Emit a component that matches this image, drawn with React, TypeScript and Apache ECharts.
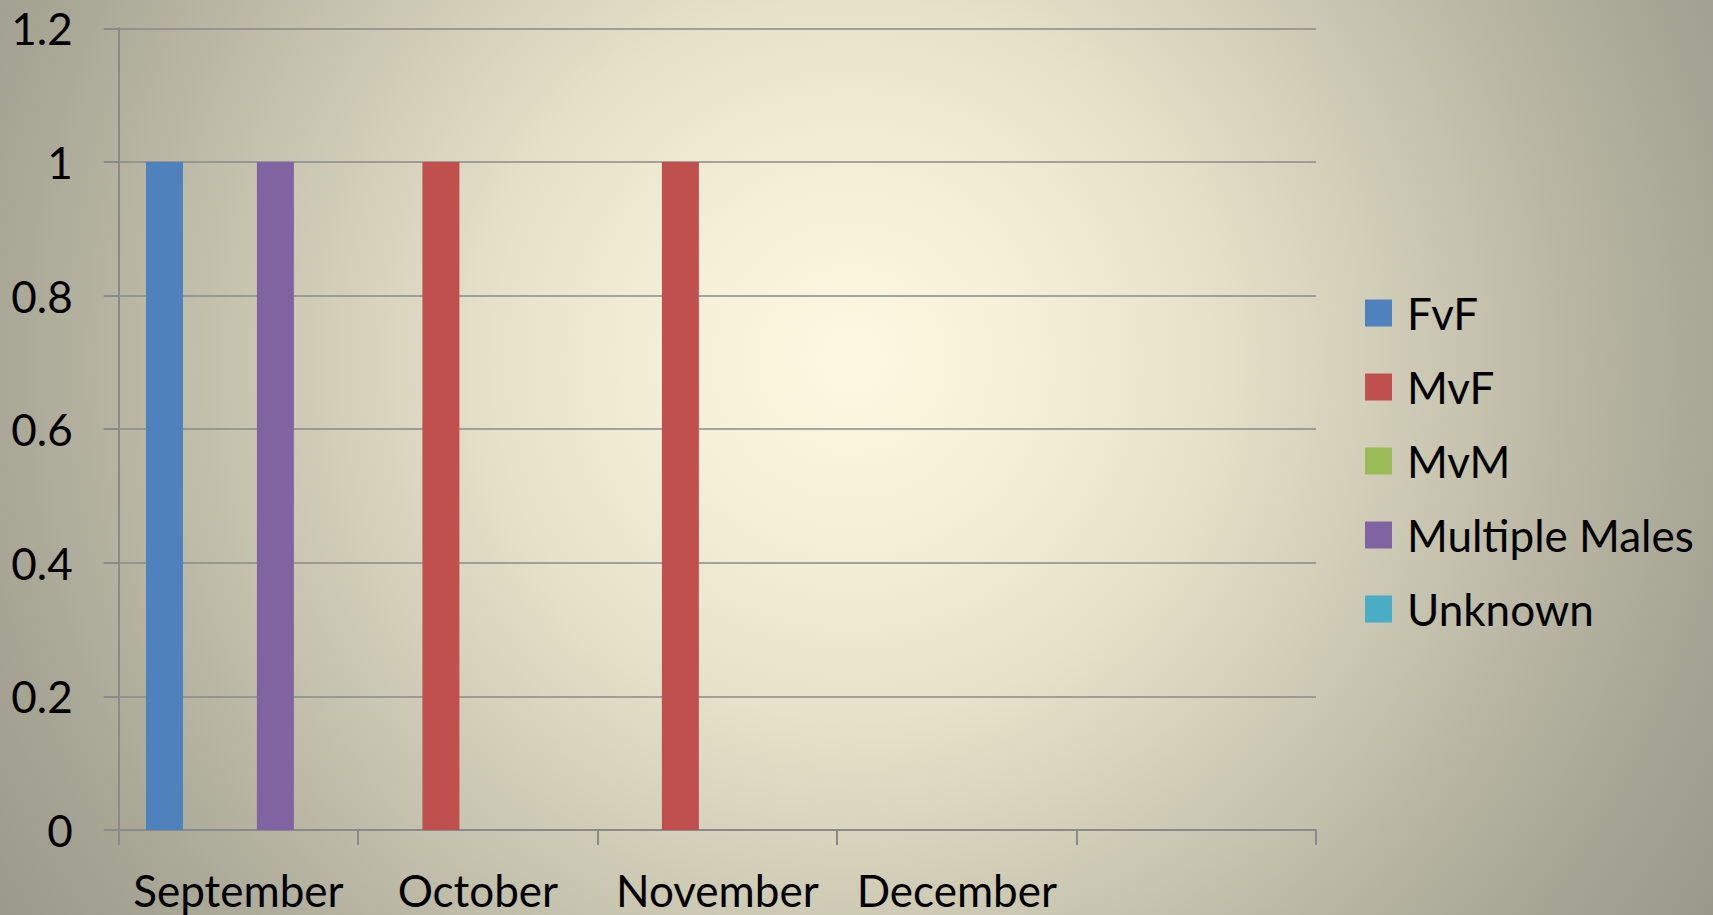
import React, { useEffect, useRef } from "react";
import * as echarts from "echarts";

const categories = ["September", "October", "November", "December", ""];
const fvf = [1, null, null, null, null];
const mvf = [null, 1, 1, null, null];
const mvm = [null, null, null, null, null];
const multipleMales = [1, null, null, null, null];
const unknown = [null, null, null, null, null];
const seriesNames = ["FvF", "MvF", "MvM", "Multiple Males", "Unknown"];
const seriesColors = ["#4f81bd", "#c0504d", "#9bbb59", "#8064a2", "#4bacc6"];
const yTicks = { min: 0, max: 1.2, interval: 0.2 };

const FONT = "Lato";

export default function App() {
  const ref = useRef<HTMLDivElement>(null);
  useEffect(() => {
    if (!ref.current) return;
    const chart = echarts.init(ref.current, undefined, { renderer: "svg" });
    const data = [fvf, mvf, mvm, multipleMales, unknown];
    chart.setOption({
      animation: false,
      backgroundColor: "transparent",
      textStyle: { fontFamily: FONT },
      grid: { left: 118.7, right: 397, top: 28.3, bottom: 85, containLabel: false },
      legend: {
        orient: "vertical",
        left: 1365,
        top: 291,
        padding: 0,
        itemWidth: 27,
        itemHeight: 27,
        itemGap: 30,
        icon: "rect",
        data: seriesNames,
        textStyle: { fontFamily: FONT, fontSize: 44, color: "#000", padding: [0, 0, 0, 10] },
      },
      xAxis: {
        type: "category",
        data: categories,
        axisLine: { lineStyle: { color: "#8a8a8a", width: 2 } },
        axisTick: { show: true, length: 15, lineStyle: { color: "#8a8a8a", width: 2 } },
        axisLabel: { fontFamily: FONT, fontSize: 44, color: "#000", margin: 38, interval: 0 },
        splitLine: { show: false },
      },
      yAxis: {
        type: "value",
        min: yTicks.min,
        max: yTicks.max,
        interval: yTicks.interval,
        axisLine: { show: true, lineStyle: { color: "#8a8a8a", width: 2 } },
        axisTick: { show: true, length: 15, lineStyle: { color: "#8a8a8a", width: 2 } },
        axisLabel: { fontFamily: FONT, fontSize: 44, color: "#000", margin: 46 },
        splitLine: { show: true, lineStyle: { color: "#8a8a8a", width: 1.5 } },
      },
      series: seriesNames.map((name, i) => ({
        name,
        type: "bar",
        data: data[i],
        barGap: "0%",
        barCategoryGap: "22.8%",
        itemStyle: { color: seriesColors[i] },
      })),
    });
    return () => chart.dispose();
  }, []);
  return (
    <div
      style={{
        position: "absolute",
        left: 0,
        top: 0,
        width: 1713,
        height: 915,
        background:
          "radial-gradient(circle at 852px 360px, #fdf8e1 0px, #f4efd7 180px, #e6e1c9 360px, #c8c5b0 600px, #a9a796 852px, #9a9889 1030px)",
      }}
    >
      <div ref={ref} style={{ width: 1713, height: 915 }} />
    </div>
  );
}
